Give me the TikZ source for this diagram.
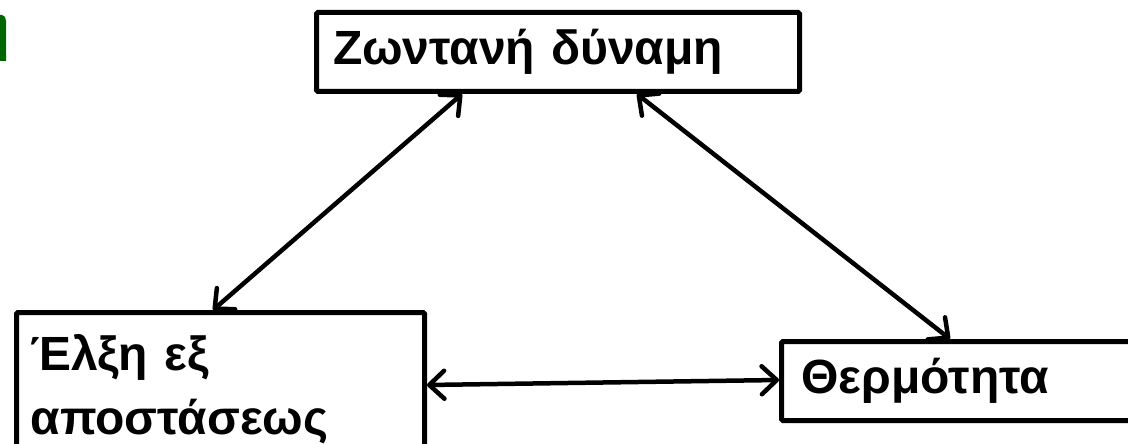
\documentclass[tikz,border=0pt]{standalone}
\usepackage{fontspec}
\setmainfont{Liberation Sans}
\usetikzlibrary{arrows.meta}
\definecolor{cutgreen}{RGB}{0,102,0}
\tikzset{
  box/.style={draw=black, line width=5pt, rounded corners=1.5pt, inner xsep=12pt,
    font=\fontsize{48}{64}\selectfont\bfseries, align=left, anchor=north west},
  link/.style={line width=4.5pt, {Straight Barb[length=15pt,width=28pt,round]}-{Straight Barb[length=15pt,width=28pt,round]}}
}
\begin{document}
\begin{tikzpicture}[x=1pt,y=-1pt]
\useasboundingbox (0,0) rectangle (1128,444);
\clip (0,0) rectangle (1128,444);
\fill[cutgreen] (0,15) -- (2,15) to[out=0,in=90] (6,21) -- (6,61) -- (0,61) -- cycle;
\node[box, minimum width=483pt, minimum height=79pt, text width=450pt] (top) at (314,10) {Ζωντανή δύναμη};
\node[box, minimum width=408pt, text width=380pt, inner xsep=14pt, inner ysep=22pt] (left) at (14,310) {Έλξη εξ\\αποστάσεως};
\node[box, minimum width=346pt, minimum height=79pt, text width=310pt, inner xsep=20pt] (right) at (779,339) {Θερμότητα};
\draw[link] (top.south -| 462,0) -- (left.north -| 213,0);
\draw[link] (top.south -| 637,0) -- (right.north -| 950,0);
\draw[link] (left.east |- 0,385) -- (right.west |- 0,380);
\end{tikzpicture}
\end{document}
